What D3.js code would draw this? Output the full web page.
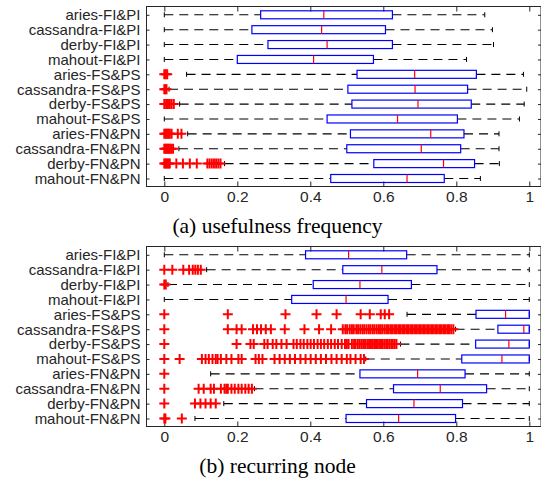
<!DOCTYPE html>
<html>
<head>
<meta charset="utf-8">
<script src="https://cdn.jsdelivr.net/npm/d3@7"></script>
<style>
  html, body { margin: 0; padding: 0; background: #ffffff; }
  svg { display: block; }
</style>
</head>
<body>
<svg id="chart" width="541" height="479"></svg>
<script>
// Row categories shared by both panels (top to bottom)
const rowLabels = [
  'aries-FI&PI', 'cassandra-FI&PI', 'derby-FI&PI', 'mahout-FI&PI',
  'aries-FS&PS', 'cassandra-FS&PS', 'derby-FS&PS', 'mahout-FS&PS',
  'aries-FN&PN', 'cassandra-FN&PN', 'derby-FN&PN', 'mahout-FN&PN'
];

const xTickValues = [0, 0.2, 0.4, 0.6, 0.8, 1];
const xTickLabels = ['0', '0.2', '0.4', '0.6', '0.8', '1'];

// (a) usefulness frequency
const ufLow    = [0, 0, 0, 0, 0.061, 0.013, 0.042, 0, 0.064, 0.040, 0.165, 0];
const ufQ1     = [0.264, 0.240, 0.284, 0.200, 0.528, 0.503, 0.514, 0.446, 0.510, 0.500, 0.574, 0.456];
const ufMedian = [0.437, 0.431, 0.446, 0.409, 0.686, 0.687, 0.695, 0.639, 0.730, 0.704, 0.765, 0.665];
const ufQ3     = [0.625, 0.606, 0.625, 0.573, 0.855, 0.831, 0.841, 0.803, 0.821, 0.812, 0.850, 0.767];
const ufHigh   = [0.878, 0.899, 0.902, 0.828, 0.984, 0.993, 0.986, 0.973, 0.917, 0.917, 0.918, 0.866];
const ufOutliers = [
  [], [], [], [],
  [0, 0.004, 0.008],
  [0, 0.003, 0.006],
  [0, 0.005, 0.01, 0.015, 0.02, 0.026],
  [],
  [0, 0.003, 0.006, 0.009, 0.012, 0.015, 0.02, 0.037, 0.047],
  [0, 0.003, 0.006, 0.009, 0.012, 0.015, 0.019, 0.024],
  [0, 0.003, 0.006, 0.009, 0.012, 0.015, 0.033, 0.051, 0.07, 0.089,
   0.118, 0.124, 0.13, 0.136, 0.142, 0.148, 0.154],
  []
];

// (b) recurring node
const rnLow    = [0, 0.116, 0.01, 0, 0.665, 0.798, 0.647, 0.552, 0.127, 0.247, 0.163, 0.084];
const rnQ1     = [0.387, 0.489, 0.408, 0.349, 0.854, 0.914, 0.853, 0.815, 0.536, 0.628, 0.554, 0.498];
const rnMedian = [0.505, 0.596, 0.536, 0.498, 0.935, 0.985, 0.944, 0.925, 0.694, 0.756, 0.684, 0.642];
const rnQ3     = [0.664, 0.747, 0.677, 0.613, 1, 1, 1, 1, 0.824, 0.883, 0.817, 0.798];
const rnHigh   = [1, 1, 1, 1, 1, 1, 1, 1, 1, 1, 1, 1];
const rnOutliers = [
  [],
  [0, 0.022, 0.052, 0.068, 0.078, 0.085, 0.092, 0.1],
  [0, 0.004],
  [],
  [0, 0.174, 0.332, 0.417, 0.472, 0.538, 0.563, 0.593, 0.604, 0.616],
  [0, 0.174, 0.198, 0.212, 0.243, 0.254, 0.265, 0.278, 0.292, 0.33, 0.384, 0.424, 0.457,
   0.489, 0.496, 0.501, 0.508, 0.514, 0.519, 0.526, 0.531, 0.537, 0.543, 0.548, 0.554,
   0.56, 0.565, 0.571, 0.576, 0.582, 0.588, 0.593, 0.598, 0.604, 0.61, 0.615, 0.621,
   0.626, 0.632, 0.637, 0.643, 0.648, 0.654, 0.659, 0.665, 0.67, 0.676, 0.681, 0.687,
   0.692, 0.698, 0.703, 0.709, 0.714, 0.72, 0.725, 0.731, 0.736, 0.742, 0.747, 0.753,
   0.758, 0.764, 0.769, 0.775, 0.78, 0.786, 0.792],
  [0, 0.198, 0.236, 0.245, 0.274, 0.283, 0.297, 0.307, 0.321, 0.335, 0.354, 0.363, 0.373,
   0.382, 0.392, 0.401, 0.41, 0.42, 0.429, 0.438, 0.448, 0.457, 0.467, 0.476, 0.486,
   0.495, 0.5, 0.505, 0.514, 0.52, 0.524, 0.53, 0.535, 0.54, 0.545, 0.55, 0.556, 0.561,
   0.566, 0.57, 0.575, 0.58, 0.585, 0.59, 0.594, 0.598, 0.603, 0.608, 0.612, 0.617,
   0.622, 0.626, 0.631, 0.636],
  [0, 0.042, 0.103, 0.113, 0.122, 0.132, 0.141, 0.146, 0.155, 0.17, 0.184, 0.203, 0.212,
   0.25, 0.259, 0.269, 0.302, 0.316, 0.33, 0.344, 0.358, 0.373, 0.387, 0.401, 0.415,
   0.429, 0.443, 0.458, 0.472, 0.486, 0.5, 0.51, 0.524, 0.538, 0.547],
  [0],
  [0, 0.094, 0.108, 0.127, 0.136, 0.155, 0.165, 0.17, 0.174, 0.184, 0.193, 0.203, 0.212,
   0.222, 0.231, 0.24],
  [0, 0.084, 0.099, 0.113, 0.127, 0.141],
  [0, 0.003, 0.048]
];

const panels = [
  { top: 6,   caption: '(a) usefulness frequency',
    low: ufLow, q1: ufQ1, median: ufMedian, q3: ufQ3, high: ufHigh, outliers: ufOutliers },
  { top: 246, caption: '(b) recurring node',
    low: rnLow, q1: rnQ1, median: rnMedian, q3: rnQ3, high: rnHigh, outliers: rnOutliers }
];

const svg = d3.select('#chart');
const frameLeft = 146, frameRight = 540.5, frameHeight = 180;
const axisColor = '#262626';
const sansFont = '"Liberation Sans", Arial, Helvetica, sans-serif';
const serifFont = '"Liberation Serif", "Times New Roman", Times, serif';

const x = d3.scaleLinear().domain([0, 1]).range([164.3, 529.3]);

panels.forEach(p => {
  const g = svg.append('g');
  const y = d3.scalePoint()
    .domain(rowLabels)
    .range([p.top + 8.8, p.top + 172.5]);

  const boxH = 8, capH = 5;
  const rows = rowLabels.map((name, i) => ({
    name, low: p.low[i], q1: p.q1[i], median: p.median[i], q3: p.q3[i], high: p.high[i],
    outliers: p.outliers[i]
  }));

  // Frame
  g.append('rect')
    .attr('x', frameLeft + 0.5).attr('y', p.top + 0.5)
    .attr('width', frameRight - frameLeft).attr('height', frameHeight)
    .attr('fill', 'none').attr('stroke', axisColor).attr('stroke-width', 1);

  // X ticks (bottom and top, pointing inward) and labels
  const xAxisB = d3.axisBottom(x).tickValues(xTickValues)
    .tickFormat((d, i) => xTickLabels[i]).tickSizeInner(-5).tickSizeOuter(0).tickPadding(8);
  const gxB = g.append('g').attr('transform', `translate(0,${p.top + frameHeight + 0.5})`).call(xAxisB);
  const xAxisT = d3.axisTop(x).tickValues(xTickValues).tickFormat('').tickSizeInner(-5).tickSizeOuter(0);
  const gxT = g.append('g').attr('transform', `translate(0,${p.top + 0.5})`).call(xAxisT);
  [gxB, gxT].forEach(a => {
    a.select('.domain').remove();
    a.selectAll('line').attr('stroke', axisColor);
  });
  gxB.selectAll('text')
    .attr('fill', axisColor).attr('font-family', sansFont).attr('font-size', 15.5)
    .attr('dy', '0.5em');

  // Y ticks and row labels
  const yAxisL = d3.axisLeft(y).tickSizeInner(-3).tickSizeOuter(0).tickPadding(6);
  const gyL = g.append('g').attr('transform', `translate(${frameLeft + 0.5},0)`).call(yAxisL);
  const yAxisR = d3.axisRight(y).tickFormat('').tickSizeInner(-3).tickSizeOuter(0);
  const gyR = g.append('g').attr('transform', `translate(${frameRight + 0.5},0)`).call(yAxisR);
  [gyL, gyR].forEach(a => {
    a.select('.domain').remove();
    a.selectAll('line').attr('stroke', axisColor);
  });
  gyL.selectAll('text')
    .attr('fill', axisColor).attr('font-family', sansFont).attr('font-size', 15);

  const rowG = g.selectAll('.row').data(rows).join('g').attr('class', 'row');

  // Whiskers (dashed) from the box edges out to the extremes
  rowG.append('line')
    .attr('x1', d => x(d.low)).attr('x2', d => x(d.q1))
    .attr('y1', d => y(d.name)).attr('y2', d => y(d.name))
    .attr('stroke', '#000').attr('stroke-width', 1.1).attr('stroke-dasharray', '9,6');
  rowG.append('line')
    .attr('x1', d => x(d.q3)).attr('x2', d => x(d.high))
    .attr('y1', d => y(d.name)).attr('y2', d => y(d.name))
    .attr('stroke', '#000').attr('stroke-width', 1.1).attr('stroke-dasharray', '9,6');

  // Whisker caps
  ['low', 'high'].forEach(k => {
    rowG.append('line')
      .attr('x1', d => x(d[k])).attr('x2', d => x(d[k]))
      .attr('y1', d => y(d.name) - capH / 2).attr('y2', d => y(d.name) + capH / 2)
      .attr('stroke', '#000').attr('stroke-width', 1);
  });

  // Interquartile boxes
  rowG.append('rect')
    .attr('x', d => x(d.q1)).attr('width', d => x(d.q3) - x(d.q1))
    .attr('y', d => y(d.name) - boxH / 2).attr('height', boxH)
    .attr('fill', 'none').attr('stroke', '#0000ff').attr('stroke-width', 1.2);

  // Medians
  rowG.append('line')
    .attr('x1', d => x(d.median)).attr('x2', d => x(d.median))
    .attr('y1', d => y(d.name) - boxH / 2).attr('y2', d => y(d.name) + boxH / 2)
    .attr('stroke', '#ff0000').attr('stroke-width', 1.2);

  // Outliers as red plus markers
  rowG.each(function (d) {
    d3.select(this).selectAll('.out').data(d.outliers).join('path')
      .attr('class', 'out')
      .attr('d', 'M-5,0H5M0,-5V5')
      .attr('transform', v => `translate(${x(v)},${y(d.name)})`)
      .attr('stroke', '#ff0000').attr('stroke-width', 2).attr('fill', 'none');
  });

  // Panel caption
  g.append('text')
    .attr('x', 277.5).attr('y', p.top + frameHeight + 40)
    .attr('text-anchor', 'middle').attr('dominant-baseline', 'central')
    .attr('font-family', serifFont).attr('font-size', 21.5).attr('fill', '#000')
    .text(p.caption);
});
</script>
</body>
</html>
